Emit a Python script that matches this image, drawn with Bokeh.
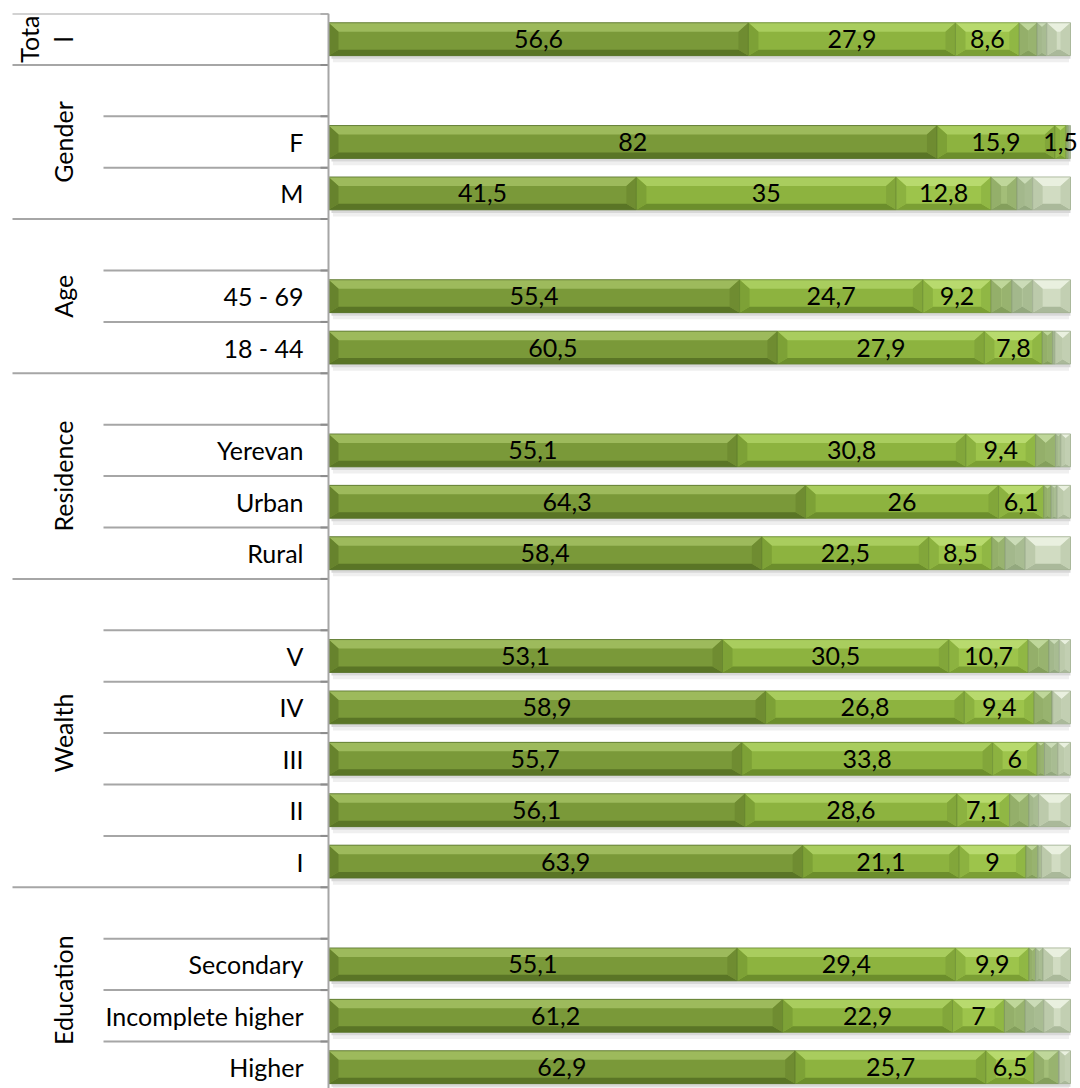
import numpy as np
from bokeh.plotting import figure
from bokeh.models import Range1d, ColumnDataSource
from bokeh.core.properties import value
from bokeh.embed import file_html
from bokeh.resources import INLINE

nan = float("nan")

# ---------------- data ----------------
categories = ["", "", "F", "M", "", "45 - 69", "18 - 44", "", "Yerevan", "Urban", "Rural",
              "", "V", "IV", "III", "II", "I", "", "Secondary", "Incomplete higher", "Higher"]
group_names = ["Total", "Gender", "Age", "Residence", "Wealth", "Education"]
group_sizes = [1, 3, 3, 4, 6, 4]

s1 = [56.6, nan, 82, 41.5, nan, 55.4, 60.5, nan, 55.1, 64.3, 58.4, nan, 53.1, 58.9, 55.7, 56.1, 63.9, nan, 55.1, 61.2, 62.9]
s2 = [27.9, nan, 15.9, 35, nan, 24.7, 27.9, nan, 30.8, 26, 22.5, nan, 30.5, 26.8, 33.8, 28.6, 21.1, nan, 29.4, 22.9, 25.7]
s3 = [8.6, nan, 1.5, 12.8, nan, 9.2, 7.8, nan, 9.4, 6.1, 8.5, nan, 10.7, 9.4, 6, 7.1, 9, nan, 9.9, 7, 6.5]
s4 = [2.4, nan, 0.3, 3.5, nan, 2.8, 1.4, nan, 2.7, 1.0, 1.8, nan, 2.8, 2.4, 1.0, 2.6, 1.6, nan, 0.9, 2.8, 3.3]
s5 = [1.3, nan, 0.2, 2.1, nan, 2.8, 0.3, nan, 0.7, 0.8, 2.7, nan, 1.4, 0.1, 1.8, 1.3, 0.5, nan, 1.0, 2.5, 0.1]
s6 = [3.2, nan, 0.1, 5.1, nan, 5.1, 2.1, nan, 1.3, 1.8, 6.1, nan, 1.5, 2.4, 1.7, 4.3, 3.9, nan, 3.7, 3.6, 1.5]
series = [s1, s2, s3, s4, s5, s6]
labelled_series = 3

# ---------------- styles ----------------
face = ["#7a9939", "#8db33f", "#9dc44b", "#a3be78", "#b4c89e", "#d1dcc2"]
topc = ["#9dba5c", "#a9cd5e", "#b8da6e", "#bfd79a", "#cbdcb8", "#e9f0df"]
botc = ["#5a7526", "#6c8e2c", "#7b9f34", "#849f5c", "#93a87e", "#aab99a"]
leftc = ["#67832d", "#7da136", "#8cb240", "#94af6a", "#a3b88c", "#bccaab"]
rightc = ["#6f8c31", "#82a63a", "#90b744", "#98b36f", "#a8bc92", "#c2cfb2"]
edgec = ["#55702a", "#65852e", "#73953a", "#7e975e", "#8ea080", "#9fae90"]

FONT = "Lato"
FS = "25px"
PX = 7.42           # pixels per percentage unit
AX = 328            # page x of the value axis
W, HT = 1080, 1088
TOP = 13
PITCH = 51.4

def xd(px):
    return (px - AX) / PX

n = len(categories)
H = 0.64            # bar thickness in rows
BX = 10 / PX        # bevel width (x units)
BYT = 9 / PITCH     # top bevel depth (rows)
BYB = 6 / PITCH     # bottom bevel depth (rows)

p = figure(width=W, height=HT, output_backend="svg", toolbar_location=None,
           x_range=Range1d(xd(0), xd(W)), y_range=Range1d((HT - TOP) / PITCH, 0),
           min_border_left=0, min_border_right=0, min_border_top=TOP, min_border_bottom=0)
p.axis.visible = False
p.grid.visible = False
p.outline_line_color = None
p.background_fill_color = "white"

vals = np.array(series, dtype=float)
valid = ~np.isnan(vals[0])
rows = np.arange(n)[valid]
v = vals[:, valid]
right = np.cumsum(v, axis=0)
left = right - v
yc = rows + 0.5
top = yc - H / 2
bot = yc + H / 2
total = right[-1]

# shadow under bars
p.quad(left=left[0] + 0.4, right=total, top=bot, bottom=bot + 0.06,
       fill_color="#7f7f7f", fill_alpha=0.30, line_color=None)
p.quad(left=left[0] + 0.6, right=total - 0.2, top=bot + 0.06, bottom=bot + 0.13,
       fill_color="#7f7f7f", fill_alpha=0.12, line_color=None)

for k in range(len(series)):
    L = left[k]; R = right[k]
    w = R - L
    b = np.minimum(BX, w / 2)
    f = np.minimum(1.0, w / (2 * BX))
    bt = BYT * f
    bb = BYB * f
    p.quad(left=L, right=R, top=top, bottom=bot, fill_color=face[k], line_color=None)
    tx = [[l, r, r - bi, l + bi] for l, r, bi in zip(L, R, b)]
    ty = [[t, t, t + d, t + d] for t, d in zip(top, bt)]
    p.patches(tx, ty, fill_color=topc[k], line_color=None)
    bxs = [[l, r, r - bi, l + bi] for l, r, bi in zip(L, R, b)]
    bys = [[o, o, o - d, o - d] for o, d in zip(bot, bb)]
    p.patches(bxs, bys, fill_color=botc[k], line_color=None)
    lx = [[l, l + bi, l + bi, l] for l, bi in zip(L, b)]
    ly = [[t, t + d1, o - d2, o] for t, o, d1, d2 in zip(top, bot, bt, bb)]
    p.patches(lx, ly, fill_color=leftc[k], line_color=None)
    rx = [[r, r - bi, r - bi, r] for r, bi in zip(R, b)]
    p.patches(rx, ly, fill_color=rightc[k], line_color=None)
    p.quad(left=L, right=R, top=top, bottom=bot, fill_color=None,
           line_color=edgec[k], line_width=1, line_alpha=0.8)

# value labels
for k in range(labelled_series):
    src = ColumnDataSource(dict(
        x=(left[k] + right[k]) / 2, y=yc,
        t=[("%g" % x).replace(".", ",") for x in v[k]]))
    p.text(x="x", y="y", text="t", source=src, text_align="center", text_baseline="middle",
           text_font=value(FONT), text_font_size=value(FS), text_color="black")

# category axis: separators
group_start = np.cumsum([0] + group_sizes[:-1])
full_y = list(group_start) + [n]
p.segment(x0=xd(12), x1=0, y0=full_y, y1=full_y, line_color="#a6a6a6", line_width=2)
inner_y = []
for gs, sz in zip(group_start, group_sizes):
    for j in range(1, sz):
        inner_y.append(gs + j)
p.segment(x0=xd(103), x1=0, y0=inner_y, y1=inner_y, line_color="#a6a6a6", line_width=2)
p.segment(x0=xd(320), x1=0, y0=full_y + inner_y, y1=full_y + inner_y,
          line_color="#8c8c8c", line_width=2)
p.segment(x0=0, x1=0, y0=0, y1=n, line_color="#a6a6a6", line_width=2)

# sub-category labels
sub_idx = [i for i, c in enumerate(categories) if c]
p.text(x=[xd(303)] * len(sub_idx), y=[i + 0.5 for i in sub_idx],
       text=[categories[i] for i in sub_idx], text_align="right", text_baseline="middle",
       text_font=value(FONT), text_font_size=value(FS), text_color="black")

# group labels (rotated)
gx, gy, gt = [], [], []
for name, gs, sz in zip(group_names, group_start, group_sizes):
    if name == "Total":
        gx += [xd(28), xd(62)]
        gy += [gs + sz / 2, gs + sz / 2]
        gt += ["Tota", "l"]
    else:
        gx.append(xd(62)); gy.append(gs + sz / 2); gt.append(name)
p.text(x=gx, y=gy, text=gt, angle=np.pi / 2, text_align="center", text_baseline="middle",
       text_font=value(FONT), text_font_size=value(FS), text_color="black")

open("out.html", "w").write(file_html(p, INLINE))
